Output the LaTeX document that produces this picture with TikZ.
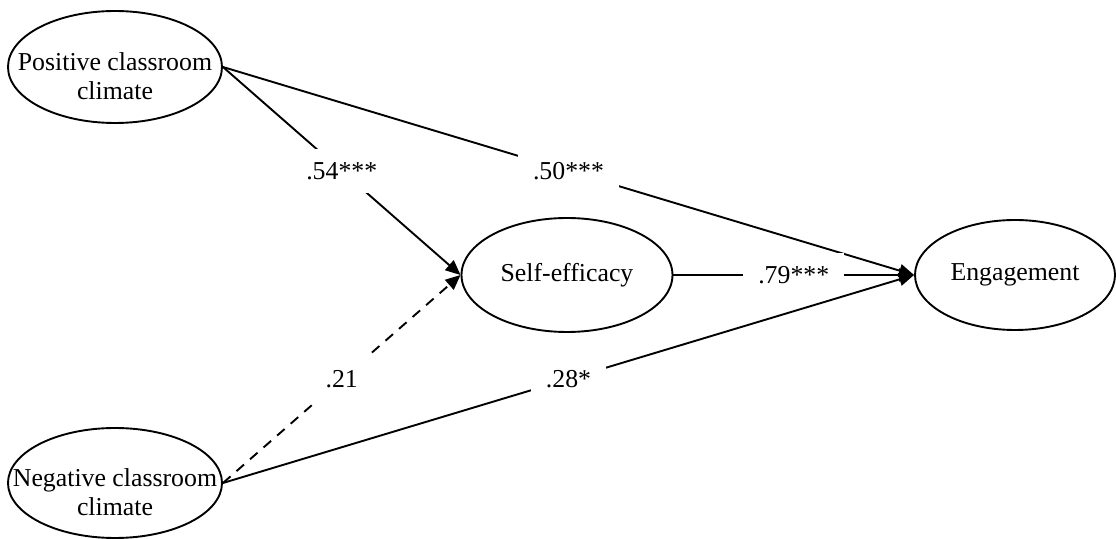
\documentclass[tikz,border=0pt]{standalone}
\usepackage{fontspec}
\setmainfont{Liberation Serif}
\usetikzlibrary{shapes.geometric,arrows.meta}
\begin{document}
\begin{tikzpicture}[x=0.5pt,y=-0.5pt,
  latent/.style={draw,ellipse,line width=0.95pt,inner sep=0pt},
  txt/.style={align=center,inner sep=0pt,font=\fontsize{12.9}{14.5}\selectfont},
  path/.style={line width=0.95pt,-{Triangle[length=7.5pt,width=6.5pt]}},
  coef/.style={fill=white,inner xsep=7.5pt,inner ysep=6.5pt,
    font=\fontsize{12.9}{14.5}\selectfont}]
  \useasboundingbox (0,0) rectangle (1116,539);

  % latent variables (outline and caption set separately so the
  % ellipse keeps its given size)
  \node[latent,minimum width=107pt,minimum height=56pt] (pos) at (115,67) {};
  \node[txt] (posT) at (115,76) {Positive classroom\\climate};
  \node[latent,minimum width=107pt,minimum height=55pt] (neg) at (115,483) {};
  \node[txt] (negT) at (115,492) {Negative classroom\\climate};
  \node[latent,minimum width=105.5pt,minimum height=57pt] (se) at (567,275) {};
  \node[txt] (seT) at (567,275) {Self-efficacy};
  \node[latent,minimum width=100pt,minimum height=55pt] (eng) at (1015,275) {};
  \node[txt] (engT) at (1015,275) {Engagement};

  % structural paths with standardized coefficients
  \draw[path] (pos.east) -- node[coef] (c50) {.50***} (eng.west);
  \draw[path] (pos.east) -- node[coef] (c54) {.54***} (se.west);
  \draw[path] (se.east) -- node[coef] (c79) {.79***} (eng.west);
  \draw[path] (neg.east) -- node[coef] (c28) {.28*} (eng.west);
  \draw[path,dash pattern=on 5pt off 4pt] (neg.east) -- node[coef] (c21) {.21} (se.west);
\end{tikzpicture}
\end{document}
